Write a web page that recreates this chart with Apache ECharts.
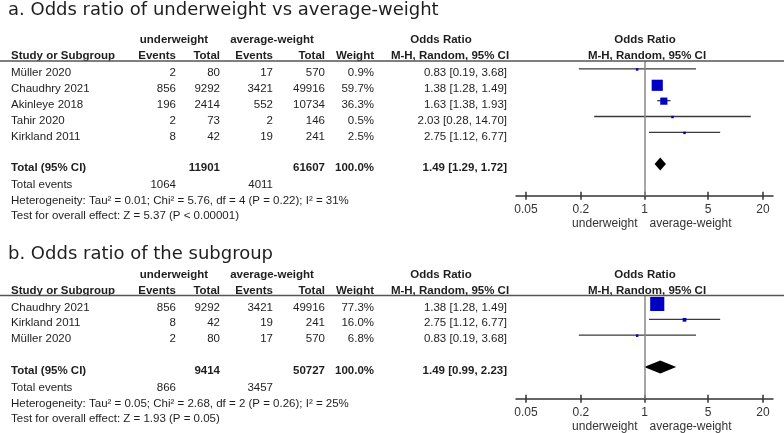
<!DOCTYPE html>
<html><head><meta charset="utf-8">
<script src="https://cdn.jsdelivr.net/npm/echarts@6/dist/echarts.min.js"></script>
<style>html,body{margin:0;padding:0;background:#fff}#c{width:784px;height:433px}</style>
</head><body><div id="c"></div>
<script>
// ---------- Panel a data ----------
const studiesA  = ['Müller 2020', 'Chaudhry 2021', 'Akinleye 2018', 'Tahir 2020', 'Kirkland 2011'];
const uwEventsA = [2, 856, 196, 2, 8];
const uwTotalA  = [80, 9292, 2414, 73, 42];
const avEventsA = [17, 3421, 552, 2, 19];
const avTotalA  = [570, 49916, 10734, 146, 241];
const weightA   = [0.9, 59.7, 36.3, 0.5, 2.5];
const orA       = [0.83, 1.38, 1.63, 2.03, 2.75];
const loA       = [0.19, 1.28, 1.38, 0.28, 1.12];
const hiA       = [3.68, 1.49, 1.93, 14.70, 6.77];
const totalsA   = [11901, 61607];           // total participants underweight / average-weight
const pooledA   = [1.49, 1.29, 1.72];       // OR, lower, upper
const eventsA   = [1064, 4011];
const hetA      = 'Heterogeneity: Tau² = 0.01; Chi² = 5.76, df = 4 (P = 0.22); I² = 31%';
const testA     = 'Test for overall effect: Z = 5.37 (P < 0.00001)';

// ---------- Panel b data ----------
const studiesB  = ['Chaudhry 2021', 'Kirkland 2011', 'Müller 2020'];
const uwEventsB = [856, 8, 2];
const uwTotalB  = [9292, 42, 80];
const avEventsB = [3421, 19, 17];
const avTotalB  = [49916, 241, 570];
const weightB   = [77.3, 16.0, 6.8];
const orB       = [1.38, 2.75, 0.83];
const loB       = [1.28, 1.12, 0.19];
const hiB       = [1.49, 6.77, 3.68];
const totalsB   = [9414, 50727];
const pooledB   = [1.49, 0.99, 2.23];
const eventsB   = [866, 3457];
const hetB      = 'Heterogeneity: Tau² = 0.05; Chi² = 2.68, df = 2 (P = 0.26); I² = 25%';
const testB     = 'Test for overall effect: Z = 1.93 (P = 0.05)';

const tickValues = [0.05, 0.2, 1, 5, 20];
const titles = ['a. Odds ratio of underweight vs average-weight', 'b. Odds ratio of the subgroup'];

// ---------- layout ----------
const FONT = '"Liberation Sans", Arial, sans-serif';
const FS = 11.5;
const TXT = '#1e1e1e';
const COL = {study: 11, ue: 176, ut: 220, ae: 273, at: 325, w: 374, or: 507};
const XMIN = 0.03883, XMAX = 25.75;
const ROWPX = 15.8;
const panels = [
  {title: titles[0], titleY: 10, h1: 40, h2: 55.5, line: 61, n: studiesA.length,
   studies: studiesA, ue: uwEventsA, ut: uwTotalA, ae: avEventsA, at: avTotalA, w: weightA,
   or: orA, lo: loA, hi: hiA, tot: totalsA, pooled: pooledA, ev: eventsA, het: hetA, test: testA},
  {title: titles[1], titleY: 254, h1: 275, h2: 290.5, line: 295.5, n: studiesB.length,
   studies: studiesB, ue: uwEventsB, ut: uwTotalB, ae: avEventsB, at: avTotalB, w: weightB,
   or: orB, lo: loB, hi: hiB, tot: totalsB, pooled: pooledB, ev: eventsB, het: hetB, test: testB}
];

function fmt2(v){ return v.toFixed(2); }
function pct(v){ return v.toFixed(1) + '%'; }

const grids = [], xAxes = [], yAxes = [], series = [], graphics = [];

panels.forEach((p, g) => {
  const totalRow = p.n + 1;
  const yMin = -0.5, yMax = totalRow + 2;
  grids.push({left: 516, width: 257, top: p.line, height: (yMax - yMin) * ROWPX + 0.5});
  xAxes.push({
    type: 'log', logBase: 10, gridIndex: g, min: XMIN, max: XMAX, position: 'bottom',
    axisLine: {show: true, onZero: false, lineStyle: {color: '#333', width: 1.5}},
    axisTick: {show: true, customValues: tickValues, length: 4, lineStyle: {color: '#333', width: 1.5}},
    axisLabel: {show: true, customValues: tickValues, margin: 8, fontSize: 12, color: '#333', fontFamily: FONT,
      formatter: v => String(+(+v).toPrecision(3))},
    splitLine: {show: false}
  });
  xAxes.push({
    type: 'log', logBase: 10, gridIndex: g, min: XMIN, max: XMAX, position: 'bottom',
    axisLine: {show: false, onZero: false},
    axisTick: {show: true, inside: true, customValues: tickValues, length: 4, lineStyle: {color: '#333', width: 1.5}},
    axisLabel: {show: false}, splitLine: {show: false}
  });
  yAxes.push({type: 'value', gridIndex: g, inverse: true, min: yMin, max: yMax, show: false});

  // table rows
  const rows = [];
  for (let i = 0; i < p.n; i++) {
    rows.push({r: i, cells: [
      {x: COL.study, t: p.studies[i], a: 'left'},
      {x: COL.ue, t: String(p.ue[i]), a: 'right'},
      {x: COL.ut, t: String(p.ut[i]), a: 'right'},
      {x: COL.ae, t: String(p.ae[i]), a: 'right'},
      {x: COL.at, t: String(p.at[i]), a: 'right'},
      {x: COL.w, t: pct(p.w[i]), a: 'right'},
      {x: COL.or, t: fmt2(p.or[i]) + ' [' + fmt2(p.lo[i]) + ', ' + fmt2(p.hi[i]) + ']', a: 'right'}
    ]});
  }
  rows.push({r: totalRow, cells: [
    {x: COL.study, t: 'Total (95% CI)', a: 'left', b: 1},
    {x: COL.ut, t: String(p.tot[0]), a: 'right', b: 1},
    {x: COL.at, t: String(p.tot[1]), a: 'right', b: 1},
    {x: COL.w, t: '100.0%', a: 'right', b: 1},
    {x: COL.or, t: fmt2(p.pooled[0]) + ' [' + fmt2(p.pooled[1]) + ', ' + fmt2(p.pooled[2]) + ']', a: 'right', b: 1}
  ]});
  rows.push({r: totalRow + 1.08, cells: [
    {x: COL.study, t: 'Total events', a: 'left'},
    {x: COL.ue, t: String(p.ev[0]), a: 'right'},
    {x: COL.ae, t: String(p.ev[1]), a: 'right'}
  ]});
  rows.push({r: totalRow + 2.06, cells: [{x: COL.study, t: p.het, a: 'left'}]});
  rows.push({r: totalRow + 3.04, cells: [{x: COL.study, t: p.test, a: 'left'}]});

  series.push({
    type: 'custom', xAxisIndex: 2 * g, yAxisIndex: g, silent: true, clip: false,
    data: rows.map(r => [1, r.r]),
    encode: {x: 0, y: 1},
    renderItem: (params, api) => {
      const row = rows[params.dataIndex];
      const y = api.coord([1, api.value(1)])[1] + 4;
      return {type: 'group', children: row.cells.map(c => ({
        type: 'text', x: c.x, y: y,
        style: {text: c.t, align: c.a, verticalAlign: 'middle', textAlign: c.a, textVerticalAlign: 'middle',
          font: (c.b ? 'bold ' : '') + FS + 'px ' + FONT, fill: TXT}
      }))};
    }
  });

  // study markers (CI whiskers + weighted squares)
  series.push({
    type: 'custom', xAxisIndex: 2 * g, yAxisIndex: g, silent: true, clip: false,
    data: p.or.map((v, i) => [v, i, p.lo[i], p.hi[i], p.w[i]]),
    encode: {x: [0, 2, 3], y: 1},
    renderItem: (params, api) => {
      const c = api.coord([api.value(0), api.value(1)]);
      const l = api.coord([api.value(2), api.value(1)]);
      const h = api.coord([api.value(3), api.value(1)]);
      const s = Math.max(2.5, 0.17 * api.value(4) + 1);
      return {type: 'group', children: [
        {type: 'line', shape: {x1: l[0], y1: c[1], x2: h[0], y2: c[1]}, style: {stroke: '#3a3a3a', lineWidth: 1.3}},
        {type: 'rect', shape: {x: c[0] - s / 2, y: c[1] - s / 2 + 0.5, width: s, height: s}, style: {fill: '#0000c4'}}
      ]};
    },
    markLine: {symbol: 'none', silent: true, label: {show: false},
      lineStyle: {color: '#888', width: 1.5, type: 'solid'}, data: [{xAxis: 1}]}
  });

  // pooled diamond
  series.push({
    type: 'custom', xAxisIndex: 2 * g, yAxisIndex: g, silent: true, clip: false,
    data: [[p.pooled[0], totalRow, p.pooled[1], p.pooled[2]]],
    encode: {x: [0, 2, 3], y: 1},
    renderItem: (params, api) => {
      const c = api.coord([api.value(0), api.value(1)]);
      const l = api.coord([api.value(2), api.value(1)]);
      const h = api.coord([api.value(3), api.value(1)]);
      const hh = 6.5;
      return {type: 'polygon', shape: {points: [[l[0], c[1]], [c[0], c[1] - hh], [h[0], c[1]], [c[0], c[1] + hh]]},
        style: {fill: '#000'}};
    }
  });

  // headings / decorations
  const bold = 'bold ' + FS + 'px ' + FONT;
  graphics.push({type: 'text', x: 8, y: p.titleY, style: {text: p.title, font: '18px "DejaVu Sans"', fill: TXT, verticalAlign: 'middle'}});
  const hdr = [
    [174, p.h1, 'underweight', 'center'], [272, p.h1, 'average-weight', 'center'],
    [441, p.h1, 'Odds Ratio', 'center'], [645, p.h1, 'Odds Ratio', 'center'],
    [COL.study, p.h2, 'Study or Subgroup', 'left'], [COL.ue, p.h2, 'Events', 'right'],
    [COL.ut, p.h2, 'Total', 'right'], [COL.ae, p.h2, 'Events', 'right'], [COL.at, p.h2, 'Total', 'right'],
    [COL.w, p.h2, 'Weight', 'right'], [450, p.h2, 'M-H, Random, 95% CI', 'center'], [647, p.h2, 'M-H, Random, 95% CI', 'center']
  ];
  hdr.forEach(h => graphics.push({type: 'text', x: h[0], y: h[1],
    style: {text: h[2], font: bold, fill: TXT, align: h[3], verticalAlign: 'middle'}}));
  graphics.push({type: 'line', shape: {x1: 0, y1: p.line, x2: 784, y2: p.line}, style: {stroke: '#555', lineWidth: 1.5}, z: 10});
});

const chart = echarts.init(document.getElementById('c'), null, {renderer: 'canvas'});
chart.setOption({
  animation: false, backgroundColor: '#fff',
  grid: grids, xAxis: xAxes, yAxis: yAxes, series: series, graphic: graphics
});

// favour labels under each axis, placed around the line of no effect
const extra = [];
panels.forEach((p, g) => {
  const x1 = chart.convertToPixel({xAxisIndex: 2 * g}, 1);
  const yb = chart.convertToPixel({yAxisIndex: g}, p.n + 3);
  extra.push({type: 'text', x: x1 - 7, y: yb + 28, style: {text: 'underweight', font: '12px ' + FONT, fill: '#333', align: 'right', verticalAlign: 'middle'}});
  extra.push({type: 'text', x: x1 + 5, y: yb + 28, style: {text: 'average-weight', font: '12px ' + FONT, fill: '#333', align: 'left', verticalAlign: 'middle'}});
});
chart.setOption({graphic: graphics.concat(extra)});
</script>
</body></html>
